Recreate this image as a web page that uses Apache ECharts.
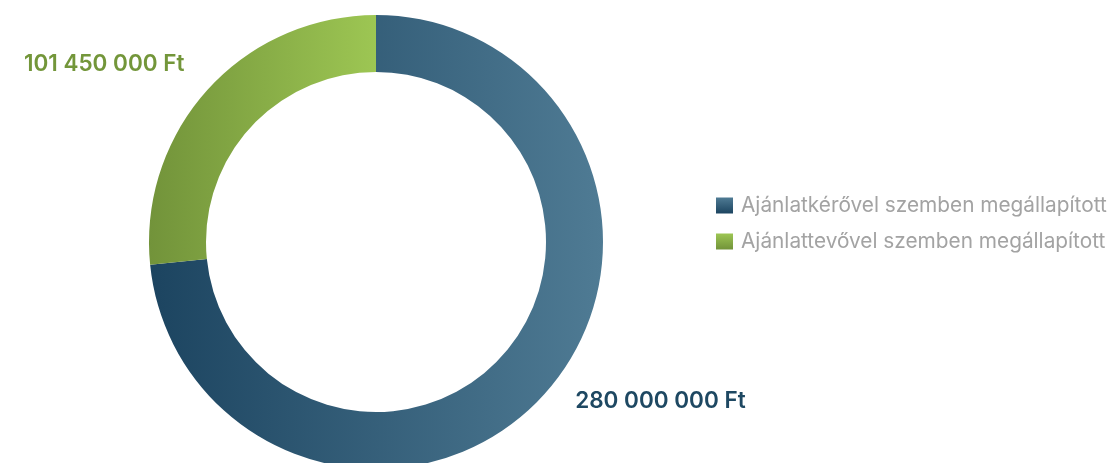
<!DOCTYPE html>
<html>
<head>
<meta charset="utf-8">
<script src="https://cdn.jsdelivr.net/npm/echarts@6/dist/echarts.min.js"></script>
<style>
html,body{margin:0;padding:0;background:#fff;}
#chart{width:1113px;height:463px;}
</style>
</head>
<body>
<div id="chart"></div>
<script>
const categories = ['Ajánlatkérővel szemben megállapított', 'Ajánlattevővel szemben megállapított'];
const values = [280000000, 101450000];
const currency = 'Ft';

const gradients = [
  ['#1c4460', '#4f7b94'],
  ['#72933a', '#9dc653']
];
const labelColors = ['#1e4862', '#73963a'];
const labelLines = [
  {length: 10.5, length2: 18, dist: 5},
  {length: 38, length2: 0, dist: -5}
];

function fmt(v) {
  return String(v).replace(/\B(?=(\d{3})+(?!\d))/g, ' ') + ' ' + currency;
}

const chart = echarts.init(document.getElementById('chart'), null, {renderer: 'canvas'});
chart.setOption({
  animation: false,
  legend: {
    orient: 'vertical',
    left: 716,
    top: 195,
    padding: 0,
    itemWidth: 17,
    itemHeight: 16,
    itemGap: 15,
    icon: 'rect',
    textStyle: {
      fontFamily: 'Inter',
      fontSize: 20.8,
      color: '#a3a3a3',
      padding: [0, 0, 0, 3]
    },
    data: categories.map((c, i) => ({
      name: c,
      itemStyle: {
        color: new echarts.graphic.LinearGradient(0, 0, 0, 1, [
          {offset: 0, color: gradients[i][1]},
          {offset: 1, color: gradients[i][0]}
        ])
      }
    }))
  },
  series: [{
    type: 'pie',
    center: [376, 242],
    radius: [170, 227],
    startAngle: 90,
    avoidLabelOverlap: false,
    labelLine: {show: false},
    data: categories.map((c, i) => ({
      name: c,
      value: values[i],
      itemStyle: {
        color: new echarts.graphic.LinearGradient(0, 0, 1, 0, [
          {offset: 0, color: gradients[i][0]},
          {offset: 1, color: gradients[i][1]}
        ])
      },
      label: {
        show: true,
        position: 'outside',
        formatter: p => fmt(p.value),
        fontFamily: 'Inter',
        fontSize: 22.5,
        fontWeight: 600,
        color: labelColors[i],
        distanceToLabelLine: labelLines[i].dist
      },
      labelLine: {show: false, length: labelLines[i].length, length2: labelLines[i].length2}
    })),
    emphasis: {disabled: true}
  }]
});
</script>
</body>
</html>
